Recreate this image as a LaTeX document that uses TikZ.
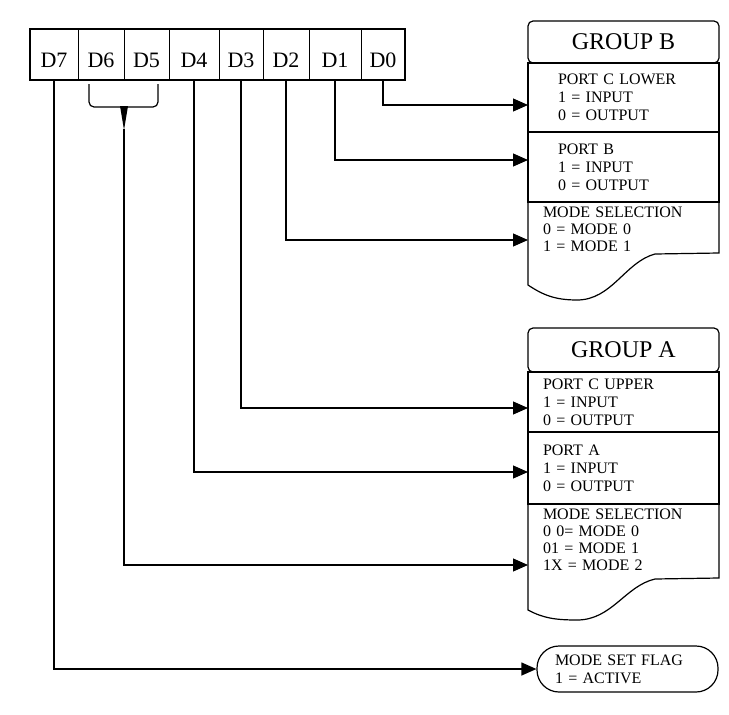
\documentclass[tikz,border=0pt]{standalone}
\usepackage{fontspec}
\setmainfont{Liberation Serif}
\usetikzlibrary{positioning,arrows.meta}

\begin{document}
\begin{tikzpicture}[x=1pt,y=-1pt,
    cell/.style={draw, line width=0.8pt, minimum height=51pt, inner sep=0pt, outer sep=0pt,
      font=\fontsize{22}{24}\selectfont, text height=25pt, text depth=0pt},
    hdr/.style={draw, line width=1.2pt, rounded corners=5pt, minimum width=191pt,
      minimum height=42pt, outer sep=0pt, font=\fontsize{24}{26}\selectfont},
    sec/.style={draw, line width=1.2pt, text width=161pt, inner xsep=15pt, inner ysep=2pt,
      align=left, outer sep=0pt, font=\fontsize{16}{18}\selectfont},
    secin/.style={text width=131pt, inner xsep=30pt},
    sectxt/.style={text width=161pt, inner xsep=15pt, inner ysep=5pt, align=left,
      outer sep=0pt, font=\fontsize{16}{17}\selectfont},
    flow/.style={line width=1.2pt, -{Triangle[length=15pt, width=13pt]}}]
        \useasboundingbox (0,0) rectangle (729,715);

        % Control word
        \node[cell, minimum width=48pt] (d7) at (54,54.5) {D7};
        \node[cell, minimum width=46pt, right=0pt of d7] (d6) {D6};
        \node[cell, minimum width=45pt, right=0pt of d6] (d5) {D5};
        \node[cell, minimum width=50pt, right=0pt of d5] (d4) {D4};
        \node[cell, minimum width=44pt, right=0pt of d4] (d3) {D3};
        \node[cell, minimum width=46pt, right=0pt of d3] (d2) {D2};
        \node[cell, minimum width=52pt, right=0pt of d2] (d1) {D1};
        \node[cell, minimum width=44pt, right=0pt of d1] (d0) {D0};
        \draw[line width=2.5pt] (d7.north west) rectangle (d0.south east);

        % Brace under D6 D5
        \draw[line width=1.2pt, rounded corners=5pt] (89,84) |- (124,107) -| (158,84);
        \fill (120,106) -- (128,106) -- (124,130) -- cycle;
        \coordinate (brtip) at (124,129);

        % Group B
        \node[hdr] (grpB) at (623.5,42) {GROUP B};
        \node[sec, secin, minimum height=69pt, below=0pt of grpB] (pclB) {PORT C LOWER\\1 = INPUT\\0 = OUTPUT};
        \node[sec, secin, minimum height=70pt, below=0pt of pclB] (pB) {PORT B\\1 = INPUT\\0 = OUTPUT};
        \node[sectxt, below=0pt of pB] (msB) {MODE SELECTION\\0 = MODE 0\\1 = MODE 1};
        \draw[line width=1.2pt] (pB.south west) -- ++(0,83)
            .. controls +(15,10) and +(-22,0) .. ++(49,15)
            .. controls +(35,0) and +(-30,8) .. ++(78,-46) -- ++(64,-1) -- (pB.south east);

        % Group A
        \node[hdr, minimum height=44pt] (grpA) at (623.5,350) {GROUP A};
        \node[sec, minimum height=60pt, below=0pt of grpA] (pcuA) {PORT C UPPER\\1 = INPUT\\0 = OUTPUT};
        \node[sec, minimum height=72pt, below=0pt of pcuA] (pA) {PORT A\\1 = INPUT\\0 = OUTPUT};
        \node[sectxt, below=0pt of pA] (msA) {MODE SELECTION\\0 0= MODE 0\\01 = MODE 1\\1X = MODE 2};
        \draw[line width=1.2pt] (pA.south west) -- ++(0,106)
            .. controls +(15,8) and +(-22,0) .. ++(49,10)
            .. controls +(35,0) and +(-30,7) .. ++(78,-41) -- ++(64,-1) -- (pA.south east);

        % Mode set flag
        \node[draw, line width=1.2pt, rounded corners=22pt, minimum width=181pt, minimum height=46pt,
            text width=145pt, inner xsep=18pt, align=left, font=\fontsize{16}{18}\selectfont]
            (flag) at (627.5,669) {MODE SET FLAG\\1 = ACTIVE};

        % Bit lines
        \draw[flow] (d0.south) |- ([yshift=-7.5pt]pclB.west);
        \draw[flow] (d1.south) |- ([yshift=7pt]pB.west);
        \draw[flow] (d2.south) |- ([yshift=-38pt]pB.south west);
        \draw[flow] (d3.south) |- ([yshift=-6pt]pcuA.west);
        \draw[flow] (d4.south) |- ([yshift=-4pt]pA.west);
        \draw[flow] (brtip) |- ([yshift=-61pt]pA.south west);
        \draw[flow] (d7.south) |- (flag.west);

    \end{tikzpicture}
\end{document}
